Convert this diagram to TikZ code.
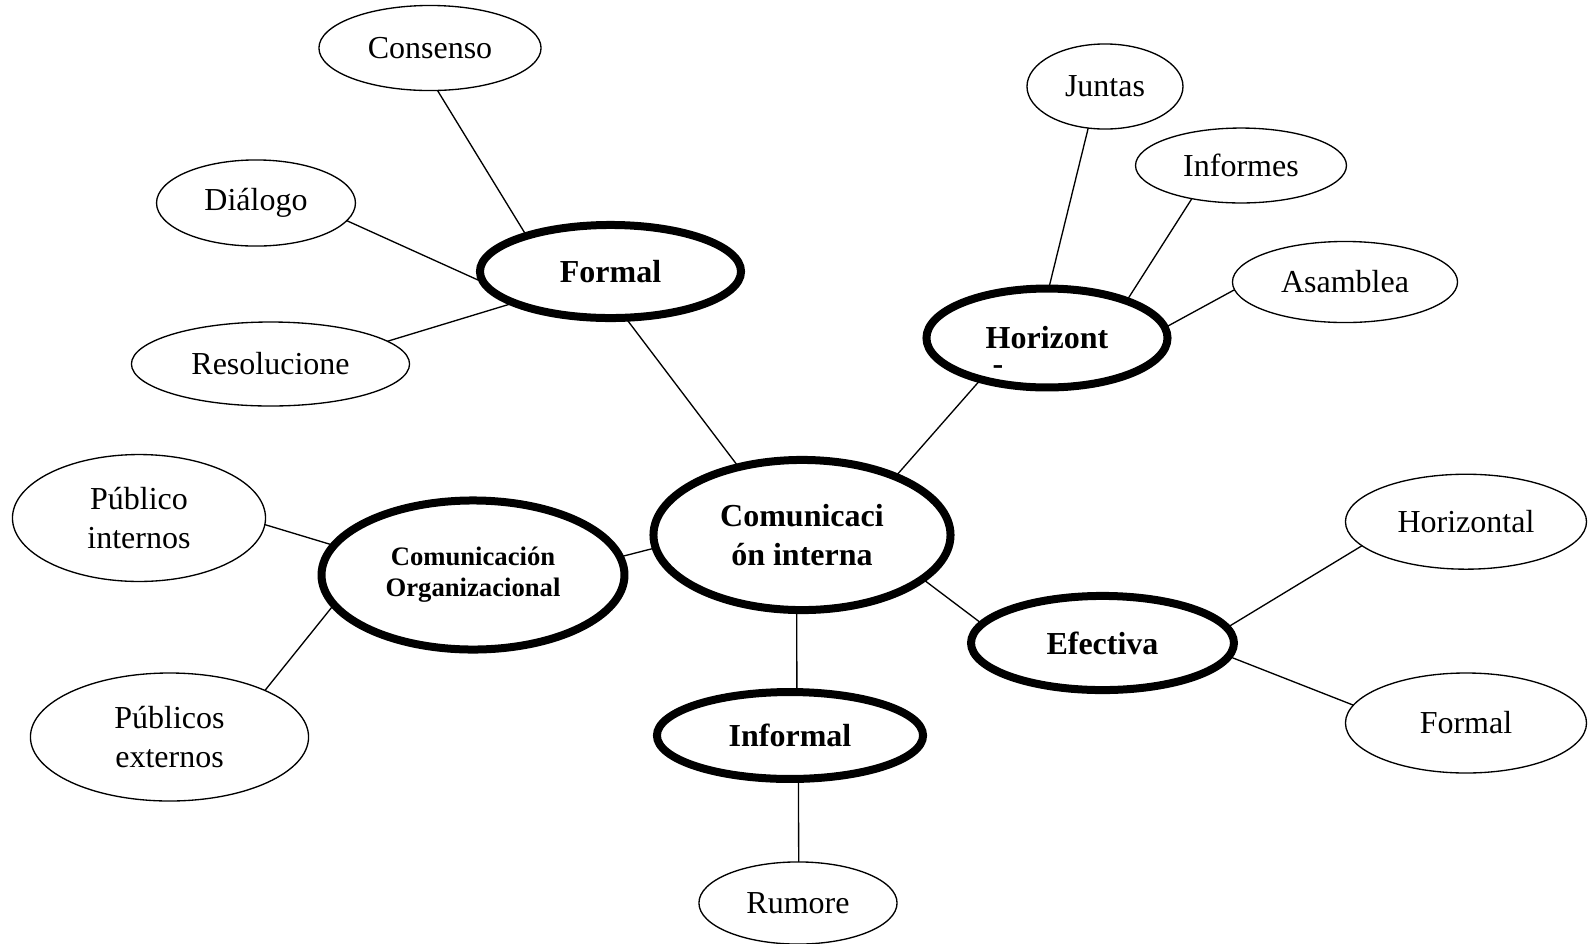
\documentclass[tikz,border=0pt]{standalone}
\usepackage{fontspec}
\setmainfont{Liberation Serif}
\usetikzlibrary{shapes.geometric}

\begin{document}
\begin{tikzpicture}[x=0.375pt, y=-0.375pt]
	\tikzstyle{every node}=[ellipse, draw, inner sep=0pt, outer sep=0pt, align=center, font=\fontsize{12pt}{14.4pt}\selectfont]
	\tikzstyle{leaf}=[line width=0.5pt]
	\tikzstyle{hub}=[line width=3pt, font=\fontsize{12pt}{14.6pt}\selectfont\bfseries]
	\useasboundingbox (0,0) rectangle (1588,944);
	% centro
	\node[hub, minimum width=111.4pt, minimum height=56.3pt] (interna) at (802,535) {Comunicaci\\ón interna};
	\node[hub, minimum width=97.9pt, minimum height=34.9pt] (formal) at (610.5,271.5) {Formal};
	\node[hub, minimum width=90.4pt, minimum height=37.1pt] (horiz) at (1047,338) {Horizont};
	\node[draw=none, rectangle, font=\fontsize{12pt}{14.4pt}\selectfont\bfseries] (horizdash) at (998,370) {-};
	\node[hub, minimum width=113.6pt, minimum height=55.9pt, font=\fontsize{10pt}{11.6pt}\selectfont\bfseries] (organiz) at (473,575) {Comunicación\\Organizacional};
	\node[hub, minimum width=98.6pt, minimum height=35.3pt] (efectiva) at (1102.5,643) {Efectiva};
	\node[hub, minimum width=99.8pt, minimum height=32.6pt] (informal) at (790,735.5) {Informal};
	% hojas
	\node[leaf, minimum width=83.3pt, minimum height=31.9pt] (consenso) at (430,48) {Consenso};
	\node[leaf, minimum width=74.6pt, minimum height=32.3pt] (dialogo) at (256,203) {Diálogo};
	\node[leaf, minimum width=104.3pt, minimum height=31.5pt] (resol) at (270.5,364) {Resolucione};
	\node[leaf, minimum width=58.5pt, minimum height=31.9pt] (juntas) at (1105,86.5) {Juntas};
	\node[leaf, minimum width=79.1pt, minimum height=28.1pt] (informes) at (1241,165.5) {Informes};
	\node[leaf, minimum width=84.4pt, minimum height=30.4pt] (asamblea) at (1345,282) {Asamblea};
	\node[leaf, minimum width=94.9pt, minimum height=47.6pt] (pubint) at (139,518) {Público\\internos};
	\node[leaf, minimum width=104.3pt, minimum height=48pt] (pubext) at (169.5,737) {Públicos\\externos};
	\node[leaf, minimum width=90.4pt, minimum height=35.6pt] (horizontal) at (1466,521.7) {Horizontal};
	\node[leaf, minimum width=90.4pt, minimum height=37.5pt] (formalb) at (1466,723) {Formal};
	\node[leaf, minimum width=74.3pt, minimum height=30.8pt] (rumore) at (798,903) {Rumore};
	% conectores
	\draw[line width=0.5pt] (consenso.-80) -- (formal.157);
	\draw[line width=0.5pt] (dialogo.-11) -- (formal.185);
	\draw[line width=0.5pt] (resol.11) -- (formal.198);
	\draw[line width=0.5pt] (formal.-72) -- (interna.133);
	\draw[line width=0.5pt] (juntas.-112) -- (horiz.88);
	\draw[line width=0.5pt] (informes.-146) -- (horiz.25);
	\draw[line width=0.5pt] (asamblea.184) -- (horiz.5);
	\draw[line width=0.5pt] (horiz.-148) -- (interna.32);
	\draw[line width=0.5pt] (interna.-20) -- (efectiva.171);
	\draw[line width=0.5pt] (efectiva.7) -- (horizontal.193);
	\draw[line width=0.5pt] (efectiva.-6) -- (formalb.171);
	\draw[line width=0.5pt] (interna.-94) -- (informal.81);
	\draw[line width=0.5pt] (informal.-79) -- (rumore.89);
	\draw[line width=0.5pt] (interna.185) -- (organiz.7);
	\draw[line width=0.5pt] (pubint.-3) -- (organiz.168);
	\draw[line width=0.5pt] (pubext.26) -- (organiz.192);
\end{tikzpicture}
\end{document}
